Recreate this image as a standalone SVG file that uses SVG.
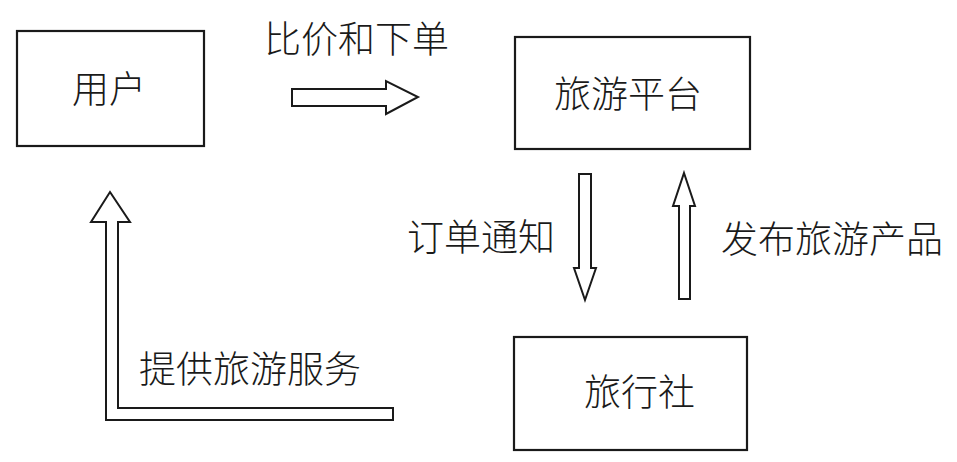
<svg xmlns="http://www.w3.org/2000/svg" width="957" height="462" viewBox="0 0 957 462">
<style>
.box{fill:#fff;stroke:#1a1a1a;stroke-width:2.2}
.arr{fill:#fff;stroke:#1a1a1a;stroke-width:2;stroke-linejoin:miter}
text{font-family:"Noto Sans CJK SC","Noto Sans CJK TC",sans-serif;font-size:37px;font-weight:300;fill:#1a1a1a}
</style>
<rect width="957" height="462" fill="#fff"/>
<g id="user">
<rect class="box" x="17" y="31" width="187" height="115"/>
<text x="72" y="103">用户</text>
</g>
<g id="platform">
<rect class="box" x="515" y="37" width="235" height="112"/>
<text x="554" y="108">旅游平台</text>
</g>
<g id="agency">
<rect class="box" x="514" y="337" width="233" height="113"/>
<text x="584" y="406">旅行社</text>
</g>
<g id="connectors">
<polygon class="arr" points="292,89 386,89 386,81 418,97 386,114 386,106 292,106"/>
<polygon class="arr" points="579,174 591,174 591,268 596,268 585,300 574,268 579,268"/>
<polygon class="arr" points="684,173 695,206 690,206 690,299 679,299 679,206 673,206"/>
<polygon class="arr" points="110,192 130,222 118,222 118,408 393,408 393,420 106,420 106,222 91,222"/>
<text x="264" y="53">比价和下单</text>
<text x="407" y="251">订单通知</text>
<text x="721" y="253">发布旅游产品</text>
<text x="139" y="383">提供旅游服务</text>
</g>
</svg>
